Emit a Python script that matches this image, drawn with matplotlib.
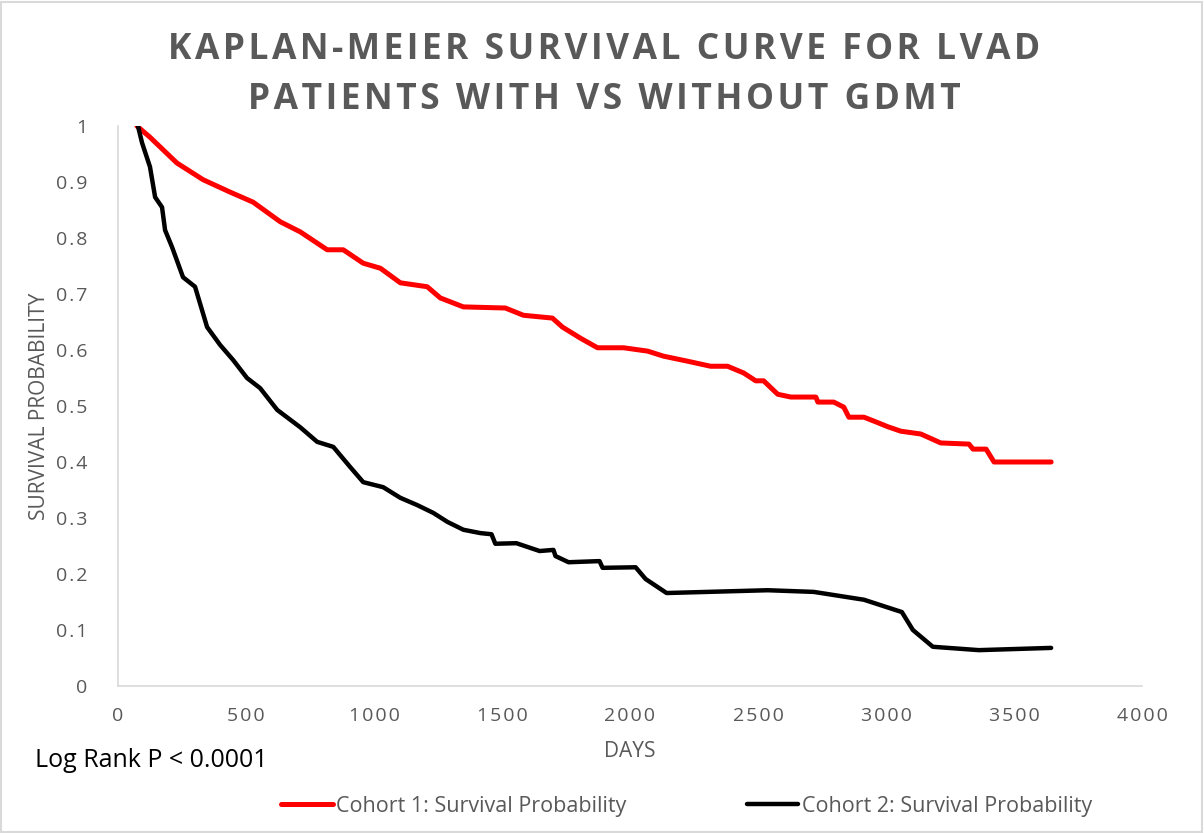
import matplotlib.pyplot as plt
from matplotlib.patches import Rectangle

plt.rcParams['font.family'] = ['Open Sans', 'DejaVu Sans']

# Data
days_c1 = [74, 125, 230, 333, 438, 528, 634, 712, 817, 880, 958, 1025, 1103, 1208,
           1259, 1349, 1513, 1584, 1697, 1736, 1807, 1873, 1975, 2069, 2131, 2225,
           2315, 2381, 2444, 2491, 2522, 2577, 2628, 2726, 2734, 2796, 2835, 2855,
           2914, 2953, 3007, 3058, 3136, 3214, 3324, 3340, 3391, 3422, 3645]
surv_c1 = [1.0, 0.98, 0.934, 0.904, 0.882, 0.864, 0.829, 0.811, 0.779, 0.779, 0.755,
           0.746, 0.72, 0.713, 0.693, 0.677, 0.675, 0.662, 0.657, 0.641, 0.621, 0.604,
           0.604, 0.598, 0.589, 0.58, 0.571, 0.571, 0.559, 0.545, 0.545, 0.521, 0.516,
           0.516, 0.507, 0.507, 0.498, 0.48, 0.48, 0.473, 0.463, 0.455, 0.45, 0.434,
           0.432, 0.423, 0.423, 0.4, 0.4]

days_c2 = [78, 94, 125, 145, 172, 184, 211, 254, 301, 348, 399, 450, 504, 555, 622,
           712, 778, 841, 907, 958, 1036, 1103, 1169, 1232, 1287, 1349, 1416, 1459,
           1474, 1556, 1647, 1701, 1709, 1760, 1881, 1893, 2022, 2061, 2143, 2538,
           2718, 2914, 3062, 3105, 3183, 3363, 3645]
surv_c2 = [1.0, 0.97, 0.927, 0.873, 0.855, 0.814, 0.784, 0.73, 0.713, 0.641, 0.609,
           0.582, 0.55, 0.532, 0.493, 0.462, 0.436, 0.427, 0.391, 0.364, 0.355, 0.336,
           0.323, 0.309, 0.293, 0.279, 0.273, 0.271, 0.254, 0.255, 0.241, 0.243, 0.232,
           0.221, 0.223, 0.211, 0.212, 0.191, 0.166, 0.171, 0.168, 0.154, 0.132, 0.1,
           0.07, 0.064, 0.068]

x_ticks = [0, 500, 1000, 1500, 2000, 2500, 3000, 3500, 4000]
y_ticks = [0, 0.1, 0.2, 0.3, 0.4, 0.5, 0.6, 0.7, 0.8, 0.9, 1]

title_lines = ['KAPLAN-MEIER SURVIVAL CURVE FOR LVAD', 'PATIENTS WITH VS WITHOUT GDMT']

gray = '#595959'
hair = '\u200a'


def spaced(s):
    # Excel-like letter spacing
    return hair.join(s)


fig = plt.figure(figsize=(12.04, 8.33), dpi=100)
ax = fig.add_axes([0.098, 0.1765, 0.8505, 0.6722])

ax.plot(days_c1, surv_c1, color='#ff0000', lw=3.6, solid_joinstyle='round',
        solid_capstyle='round', label='Cohort 1: Survival Probability')
ax.plot(days_c2, surv_c2, color='#000000', lw=3.2, solid_joinstyle='round',
        solid_capstyle='round', label='Cohort 2: Survival Probability')

ax.set_xlim(0, 4000)
ax.set_ylim(0, 1)
ax.set_xticks(x_ticks)
ax.set_xticklabels([spaced(str(v)) for v in x_ticks])
ax.set_yticks(y_ticks)
ax.set_yticklabels([spaced(f'{v:g}') for v in y_ticks])
ax.tick_params(length=0, labelsize=14, labelcolor=gray)
ax.tick_params(axis='y', pad=22)
ax.tick_params(axis='x', pad=15)

for s in ['top', 'right']:
    ax.spines[s].set_visible(False)
for s in ['left', 'bottom']:
    ax.spines[s].set_color('#d9d9d9')
    ax.spines[s].set_linewidth(1.2)

ax.set_xlabel('DAYS', fontsize=15, color=gray, labelpad=12)
ax.set_ylabel('SURVIVAL PROBABILITY', fontsize=15, color=gray, labelpad=4)

fig.text(0.502, 0.940, spaced(title_lines[0]), ha='center', va='center',
         fontsize=25.5, fontweight='bold', color=gray)
fig.text(0.502, 0.880, spaced(title_lines[1]), ha='center', va='center',
         fontsize=25.5, fontweight='bold', color=gray)

fig.text(0.029, 0.087, 'Log Rank P < 0.0001', fontsize=18, color='black', va='center')

fig.legend(loc='center', bbox_to_anchor=(0.57, 0.032), ncol=2, frameon=False,
           fontsize=15.5, handlelength=2.4, handletextpad=0.15, columnspacing=5.6,
           labelcolor=gray)

fig.patches.append(Rectangle((0.001, 0.001), 0.997, 0.997, transform=fig.transFigure,
                             fill=False, edgecolor='#d9d9d9', lw=1.5))

fig.savefig('out.png', dpi=100)
